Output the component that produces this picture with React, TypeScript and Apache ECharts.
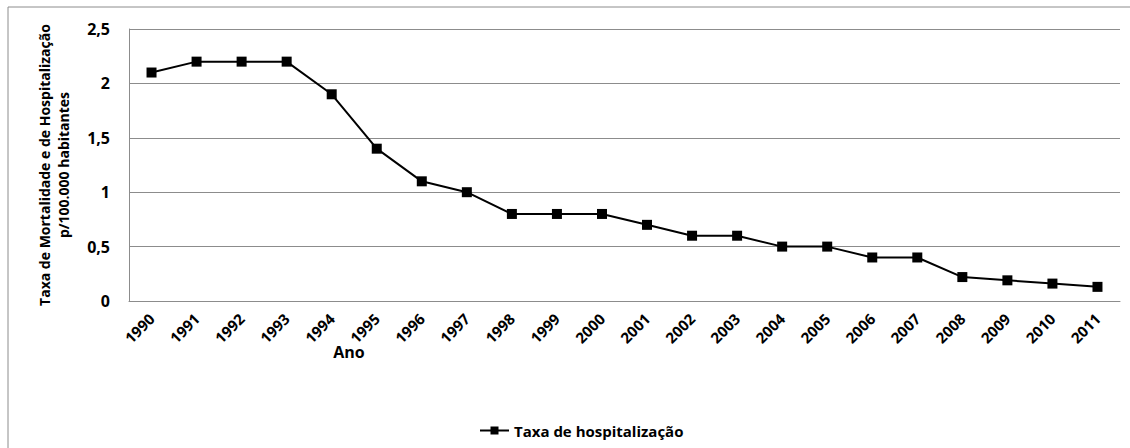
import React, { useEffect, useRef } from "react";
import * as echarts from "echarts";

const years = ["1990","1991","1992","1993","1994","1995","1996","1997","1998","1999","2000","2001","2002","2003","2004","2005","2006","2007","2008","2009","2010","2011"];
const hospitalizacao = [2.1, 2.2, 2.2, 2.2, 1.9, 1.4, 1.1, 1.0, 0.8, 0.8, 0.8, 0.7, 0.6, 0.6, 0.5, 0.5, 0.4, 0.4, 0.22, 0.19, 0.16, 0.13];
const seriesName = "Taxa de hospitalização";
const yTitle = "Taxa de Mortalidade e de Hospitalização\np/100.000 habitantes";
const xTitle = "Ano";

const FONT = "'Open Sans', 'Noto Sans', sans-serif";

export default function App() {
  const ref = useRef<HTMLDivElement>(null);
  useEffect(() => {
    if (!ref.current) return;
    const chart = echarts.init(ref.current, null, { renderer: "svg" });
    chart.setOption({
      animation: false,
      backgroundColor: "#ffffff",
      textStyle: { fontFamily: FONT },
      graphic: [
        {
          type: "rect",
          shape: { x: 8, y: 7, width: 1200, height: 500 },
          style: { fill: "none", stroke: "#8c8c8c", lineWidth: 1 },
          silent: true,
          z: -1,
        },
        {
          type: "text",
          x: 349,
          y: 352,
          style: {
            text: xTitle,
            font: `bold 16px ${FONT}`,
            fill: "#000",
            align: "center",
            verticalAlign: "middle",
          },
        },
      ],
      legend: {
        top: 418,
        left: 474,
        itemWidth: 29,
        itemHeight: 10,
        itemGap: 4,
        data: [seriesName],
        textStyle: { fontFamily: FONT, fontWeight: "bold", fontSize: 15, color: "#000" },
      },
      grid: { left: 129, top: 29, right: 10, bottom: 147, containLabel: false },
      xAxis: {
        type: "category",
        data: years,
        boundaryGap: true,
        axisLine: { show: true, lineStyle: { color: "#8c8c8c" } },
        axisTick: { show: false },
        axisLabel: {
          rotate: 45,
          margin: 15,
          fontFamily: FONT,
          fontWeight: "bold",
          fontSize: 15,
          color: "#000",
          interval: 0,
        },
      },
      yAxis: {
        type: "value",
        min: 0,
        max: 2.5,
        interval: 0.5,
        name: yTitle,
        nameLocation: "middle",
        nameGap: 56,
        nameTextStyle: { fontFamily: FONT, fontWeight: "bold", fontSize: 14, color: "#000", lineHeight: 19 },
        axisLine: { show: true, lineStyle: { color: "#8c8c8c" } },
        axisTick: { show: false },
        splitLine: { show: true, lineStyle: { color: "#8c8c8c" } },
        axisLabel: {
          margin: 19,
          fontFamily: FONT,
          fontWeight: "bold",
          fontSize: 16,
          color: "#000",
          formatter: (v: number) => String(v).replace(".", ","),
        },
      },
      series: [
        {
          name: seriesName,
          type: "line",
          data: hospitalizacao,
          symbol: "rect",
          symbolSize: 10,
          itemStyle: { color: "#000" },
          lineStyle: { color: "#000", width: 2 },
        },
      ],
    });
    return () => chart.dispose();
  }, []);
  return <div ref={ref} style={{ position: "fixed", left: 0, top: 0, width: 1130, height: 448 }} />;
}
